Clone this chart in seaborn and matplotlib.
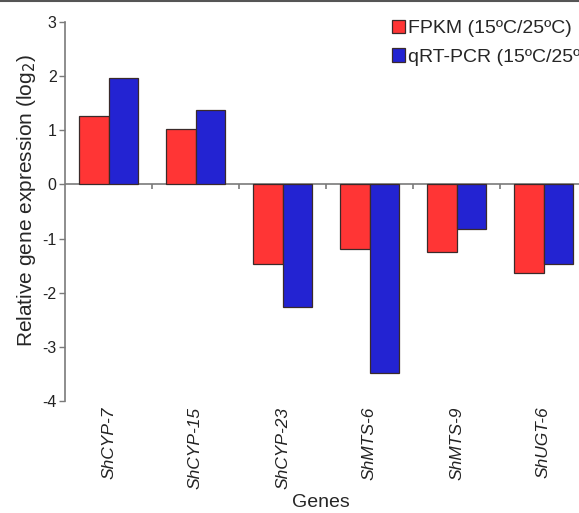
import matplotlib
matplotlib.use("Agg")
import matplotlib.pyplot as plt
import seaborn as sns
import pandas as pd
from matplotlib.lines import Line2D

genes = ["ShCYP-7", "ShCYP-15", "ShCYP-23", "ShMTS-6", "ShMTS-9", "ShUGT-6"]
fpkm = [1.27, 1.03, -1.47, -1.19, -1.24, -1.63]
qrtpcr = [1.97, 1.38, -2.27, -3.48, -0.83, -1.47]
series_names = ["FPKM (15ºC/25ºC)", "qRT-PCR (15ºC/25ºC)"]
yticks = [-4, -3, -2, -1, 0, 1, 2, 3]

df = pd.DataFrame({
    "gene": genes * 2,
    "value": fpkm + qrtpcr,
    "series": [series_names[0]] * len(genes) + [series_names[1]] * len(genes),
})

sns.set_style("white")
plt.rcParams["font.family"] = ["Liberation Sans", "DejaVu Sans"]

W, H = 579, 513
fig = plt.figure(figsize=(W / 100, H / 100), dpi=100)
left, right, top, bottom = 65, 587, 22, 401
ax = fig.add_axes([left / W, 1 - bottom / H, (right - left) / W, (bottom - top) / H])

red = "#FF3535"
blue = "#2323D2"
sns.barplot(data=df, x="gene", y="value", hue="series", palette=[red, blue],
            width=0.667, gap=0, edgecolor="#3a2a2a", linewidth=0.9, ax=ax,
            errorbar=None, saturation=1)

gray = "#7a7a7a"
ax.set_xlim(-0.5, len(genes) - 0.5)
ax.set_ylim(-4, 3)
ax.set_yticks(yticks)
ax.set_yticklabels([str(t) for t in yticks], fontsize=11.5, color="#222222")
ax.tick_params(axis="y", direction="out", length=4, width=1, color=gray, pad=2, left=True)
ax.set_xticks(range(len(genes)))
ax.set_xticklabels(genes, rotation=90, fontsize=12.5, fontstyle="italic", color="#222222")
ax.tick_params(axis="x", length=0, pad=4)

for s in ["top", "right", "bottom"]:
    ax.spines[s].set_visible(False)
ax.spines["left"].set_color(gray)
ax.spines["left"].set_linewidth(1.2)

ax.axhline(0, color=gray, lw=1.2, zorder=0.5)
ax.vlines([i + 0.5 for i in range(len(genes))], 0, -0.08, color=gray, lw=1.2)

ax.set_ylabel("Relative gene expression (log$_2$)", fontsize=15)
ax.yaxis.set_label_coords(-0.052, 0.53)
ax.set_xlabel("Genes", fontsize=14)
ax.xaxis.set_label_coords(0.49, -0.245)

handles, labels = ax.get_legend_handles_labels()
ax.legend(handles, labels, loc="upper left", bbox_to_anchor=(392 / W, 1 - 20 / H),
          bbox_transform=fig.transFigure, frameon=False, fontsize=14,
          handlelength=0.68, handleheight=0.68, handletextpad=0.15,
          labelspacing=0.55, borderaxespad=0, borderpad=0)

fig.add_artist(Line2D([0, 1], [1 - 0.5 / H, 1 - 0.5 / H], transform=fig.transFigure,
                      color="#555555", lw=1.5))

fig.savefig("out.png", dpi=100)
